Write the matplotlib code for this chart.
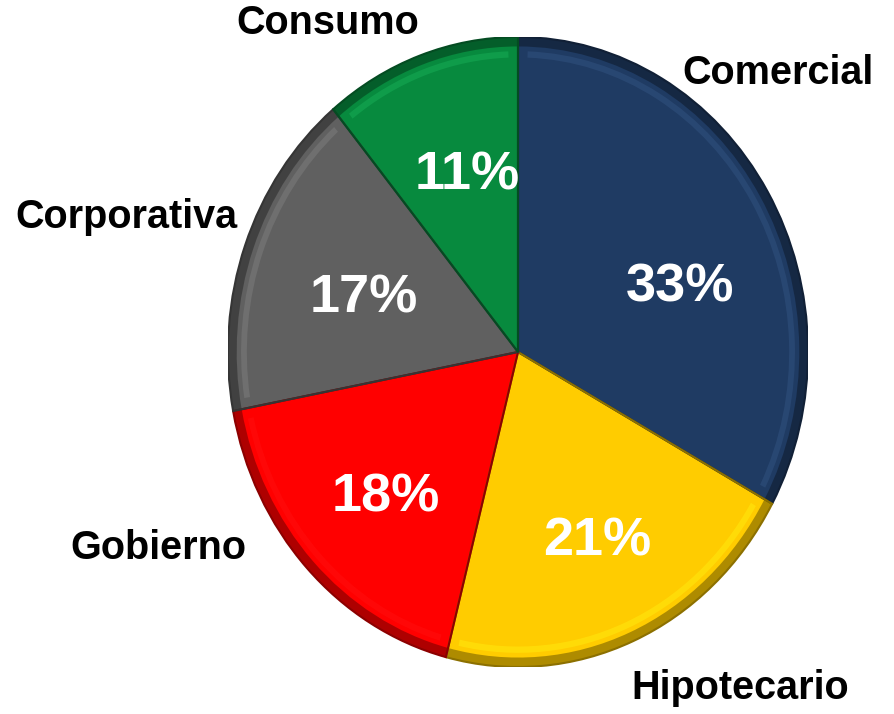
import matplotlib.pyplot as plt
import matplotlib.colors as mcolors
from matplotlib.patches import Wedge
import numpy as np

plt.rcParams['font.family'] = ['Liberation Sans', 'DejaVu Sans']

# data
categories = ["Comercial", "Hipotecario", "Gobierno", "Corporativa", "Consumo"]
shares = [33, 21, 18, 17, 11]
colors = ["#1F3B63", "#FFCC00", "#FF0000", "#606060", "#078A3E"]

# label positions in pixels (image coords, y down)
name_pos = [(778, 73), (740, 688), (158, 548), (126, 217), (328, 23)]
pct_pos = [(680, 288), (597, 542), (386, 498), (364, 298), (467, 175)]

W, H = 895, 714
fig = plt.figure(figsize=(W / 100, H / 100), dpi=100)

# pie is slightly taller than wide in the reference
cx, cy, rx, ry = 518, 352, 290, 315
ax = fig.add_axes([(cx - rx) / W, (H - cy - ry) / H, 2 * rx / W, 2 * ry / H])

wedges, _ = ax.pie(shares, colors=colors, startangle=90, counterclock=False,
                   radius=1.0, wedgeprops=dict(linewidth=0))
ax.set_aspect('auto')
ax.set_xlim(-1, 1)
ax.set_ylim(-1, 1)
ax.axis('off')

# fake bevel: darker rim + dark edges between slices
for w, c in zip(wedges, colors):
    dark = np.array(mcolors.to_rgb(c)) * 0.55
    light = np.clip(np.array(mcolors.to_rgb(c)) * 1.25 + 0.1, 0, 1)
    ax.add_patch(Wedge((0, 0), 1.0, w.theta1, w.theta2, width=0.03,
                       facecolor=dark, edgecolor='none', alpha=0.7))
    ax.add_patch(Wedge((0, 0), 0.955, w.theta1 + 2, w.theta2 - 2, width=0.02,
                       facecolor=light, edgecolor='none', alpha=0.3))
    ax.add_patch(Wedge((0, 0), 1.0, w.theta1, w.theta2, width=1.0,
                       facecolor='none', edgecolor=dark, linewidth=1.5))

for name, (x, y) in zip(categories, name_pos):
    fig.text(x / W, 1 - y / H, name, ha='center', va='center',
             fontsize=28.5, fontweight='bold', color='black')

for s, (x, y) in zip(shares, pct_pos):
    fig.text(x / W, 1 - y / H, f"{s}%", ha='center', va='center',
             fontsize=39, fontweight='bold', color='white')

fig.savefig("out.png", dpi=100)
